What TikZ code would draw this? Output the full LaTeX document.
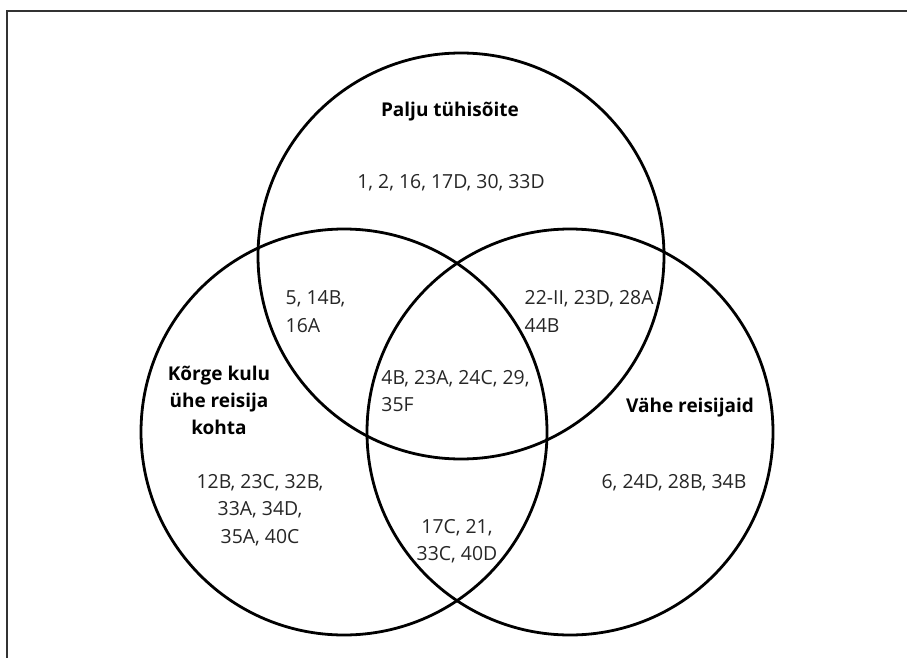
\documentclass[tikz,border=0pt]{standalone}
\usepackage{fontspec}
\setmainfont{Open Sans}
\begin{document}
\begin{tikzpicture}[x=1pt,y=-1pt,
  setc/.style={draw=black,line width=2.8pt,circle,minimum size=406pt,inner sep=0pt},
  lbl/.style={font=\fontsize{19.4}{27.5}\selectfont,text=black!85,inner sep=0pt,align=center},
  lbll/.style={lbl,align=left},
  ttl/.style={font=\fontsize{19}{27}\selectfont\bfseries,text=black,inner sep=0pt,align=center}]
\useasboundingbox (0,0) rectangle (907,658);
\fill[white] (0,0) rectangle (907,658);
\draw[line width=2pt,draw=black!80] (7,658) -- (7,11) -- (907,11);
\node[setc] (top) at (461,256) {};
\node[setc] (left) at (344,432) {};
\node[setc] (right) at (570,432) {};
\node[ttl] (t1) at (450,112) {Palju tühisõite};
\node[lbl] (n1) at (451,183) {1, 2, 16, 17D, 30, 33D};
\node[lbll] (n2) at (315.5,311.5) {5, 14B,\\16A};
\node[lbll,anchor=west] (n3) at (524.5,311.5) {22-II, 23D, 28A\\44B};
\node[lbll] (n4) at (455.5,391) {4B, 23A, 24C, 29,\\35F};
\node[ttl] (t2) at (219,400) {Kõrge kulu\\ühe reisija\\kohta};
\node[lbl] (n5) at (260,510) {12B, 23C, 32B,\\33A, 34D,\\35A, 40C};
\node[lbl] (n6) at (457,541) {17C, 21,\\33C, 40D};
\node[ttl] (t3) at (690,408) {Vähe reisijaid};
\node[lbl] (n7) at (674,483) {6, 24D, 28B, 34B};
\end{tikzpicture}
\end{document}
